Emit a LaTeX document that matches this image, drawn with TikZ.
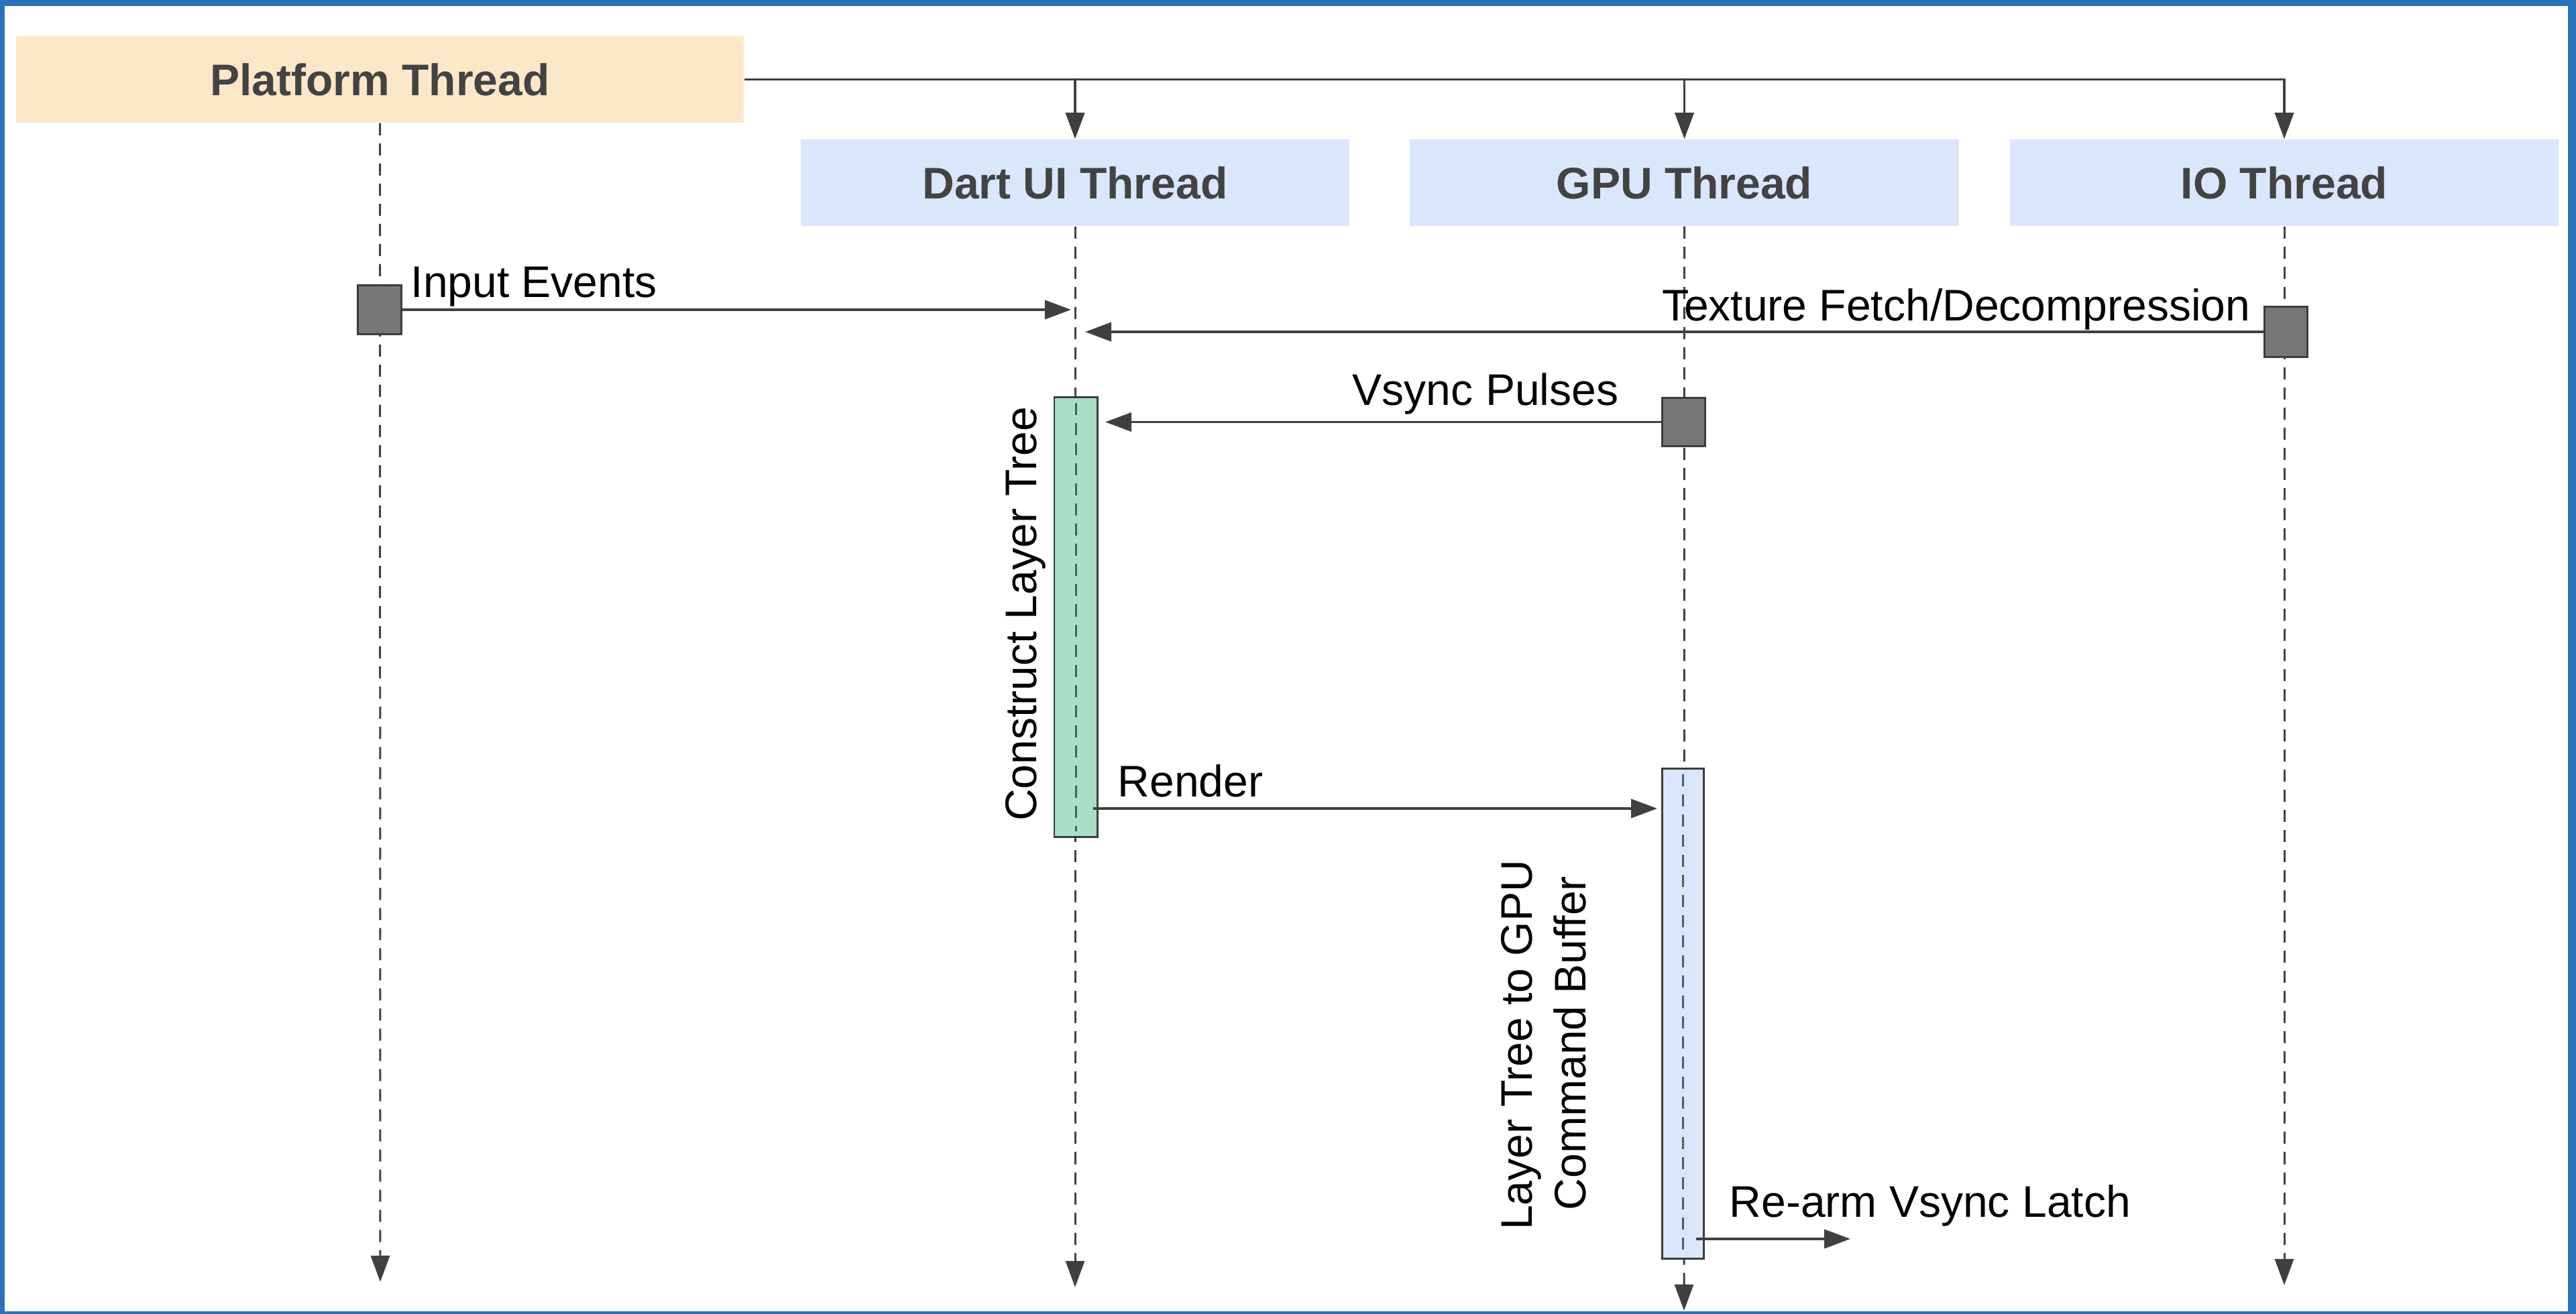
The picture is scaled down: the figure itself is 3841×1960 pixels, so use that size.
\documentclass[tikz,border=0pt]{standalone}
\usepackage{fontspec}
\setmainfont{Liberation Sans}
\usetikzlibrary{arrows.meta}
\definecolor{frameblue}{HTML}{2A73B8}
\definecolor{platfill}{HTML}{FCE8C8}
\definecolor{thrfill}{HTML}{DAE6FB}
\definecolor{titlegray}{HTML}{434343}
\definecolor{linegray}{HTML}{404040}
\definecolor{actgray}{HTML}{767676}
\definecolor{actstroke}{HTML}{3C3C3C}
\definecolor{greenfill}{HTML}{A9DFC6}
\definecolor{greendash}{HTML}{2F6E55}
\definecolor{bluedash}{HTML}{4A5A78}
\tikzset{
  thread/.style={inner sep=0pt, minimum height=1.29cm, text=titlegray,
    font=\fontsize{18.78pt}{22pt}\selectfont\bfseries},
  lbl/.style={inner sep=0pt, text=black, font=\fontsize{18.78pt}{22pt}\selectfont},
  lifeline/.style={draw=linegray, line width=0.85pt, dash pattern=on 0.18cm off 0.12cm,
    -{Triangle[length=0.39cm, width=0.28cm]}},
  msg/.style={draw=linegray, line width=1.1pt, -{Triangle[length=0.39cm, width=0.28cm]}},
  actbox/.style={draw=actstroke, fill=actgray, line width=0.85pt, inner sep=0pt,
    minimum width=0.64cm},
  execbox/.style={draw=actstroke, line width=0.85pt, inner sep=0pt}
}
\begin{document}
\begin{tikzpicture}[x=0.01cm, y=-0.01cm]
\useasboundingbox (0,0) rectangle (3841,1960);
\fill[white] (0,0) rectangle (3841,1960);
% frame
\fill[frameblue] (0,0) rectangle (3841,9);
\fill[frameblue] (0,0) rectangle (7,1960);
\fill[frameblue] (3829,0) rectangle (3841,1960);
\fill[frameblue] (0,1956) rectangle (3841,1960);

% thread headers
\node[thread, fill=platfill, minimum width=10.85cm] (plat) at (566.5,118.5) {Platform Thread};
\node[thread, fill=thrfill, minimum width=8.18cm] (dart) at (1603,272.5) {Dart UI Thread};
\node[thread, fill=thrfill, minimum width=8.19cm] (gpu) at (2511.5,272.5) {GPU Thread};
\node[thread, fill=thrfill, minimum width=8.18cm] (io) at (3406,272.5) {IO Thread};

% spawn arrows
\draw[msg] (plat.east) -| (io.north);
\draw[msg] (plat.east -| dart.north) -- (dart.north);
\draw[msg] (plat.east -| gpu.north) -- (gpu.north);

% lifeline ends
\coordinate (pend) at (567,1912);
\coordinate (dend) at (1603,1920);
\coordinate (gend) at (2511,1955);
\coordinate (iend) at (3406,1917);
\draw[lifeline] (plat.south) -- (pend);
\draw[lifeline] (dart.south) -- (dend);
\draw[lifeline] (gpu.south) -- (gend);
\draw[lifeline] (io.south) -- (iend);

% activation boxes
\node[actbox, minimum height=0.72cm] (pa) at (566,462) {};
\node[actbox, minimum height=0.74cm] (ia) at (3408,495) {};
\node[actbox, minimum height=0.71cm] (va) at (2510,629.5) {};
\node[execbox, fill=greenfill, minimum width=0.64cm, minimum height=6.55cm] (ga) at (1604,920.5) {};
\node[execbox, fill=thrfill, minimum width=0.62cm, minimum height=7.30cm] (ba) at (2509,1512) {};
\draw[draw=greendash, line width=0.85pt, dash pattern=on 0.18cm off 0.12cm]
  ([yshift=-0.1cm]ga.north) -- ([yshift=0.1cm]ga.south);
\draw[draw=bluedash, line width=0.85pt, dash pattern=on 0.18cm off 0.12cm]
  ([yshift=-0.1cm]ba.north) -- ([yshift=0.1cm]ba.south);

% messages
\coordinate (ieend) at (1597,462);
\draw[msg] (pa.east) -- (ieend);
\node[lbl, anchor=base west] (ielbl) at (612,443) {Input Events};

\coordinate (txend) at (1618,495);
\draw[msg] (ia.west) -- (txend);
\node[lbl, anchor=base east] (txlbl) at (3356,478) {Texture Fetch/Decompression};

\coordinate (vsend) at (1648,629.5);
\draw[msg] (va.west) -- (vsend);
\node[lbl, anchor=base east] (vslbl) at (2414,604) {Vsync Pulses};

\coordinate (rstart) at (1630,1206);
\coordinate (rend) at (2471,1206);
\draw[msg] (rstart) -- (rend);
\node[lbl, anchor=base west] (rlbl) at (1666,1188) {Render};

\coordinate (rastart) at (2529,1848);
\coordinate (raend) at (2759,1848);
\draw[msg] (rastart) -- (raend);
\node[lbl, anchor=base west] (ralbl) at (2578,1815) {Re-arm Vsync Latch};

% rotated labels
\node[lbl, rotate=90, anchor=base] (cltlbl) at (1545,916) {Construct Layer Tree};
\node[lbl, rotate=90, anchor=base] (lt1) at (2284,1559) {Layer Tree to GPU};
\node[lbl, rotate=90, anchor=base] (lt2) at (2364,1556) {Command Buffer};
\end{tikzpicture}
\end{document}
